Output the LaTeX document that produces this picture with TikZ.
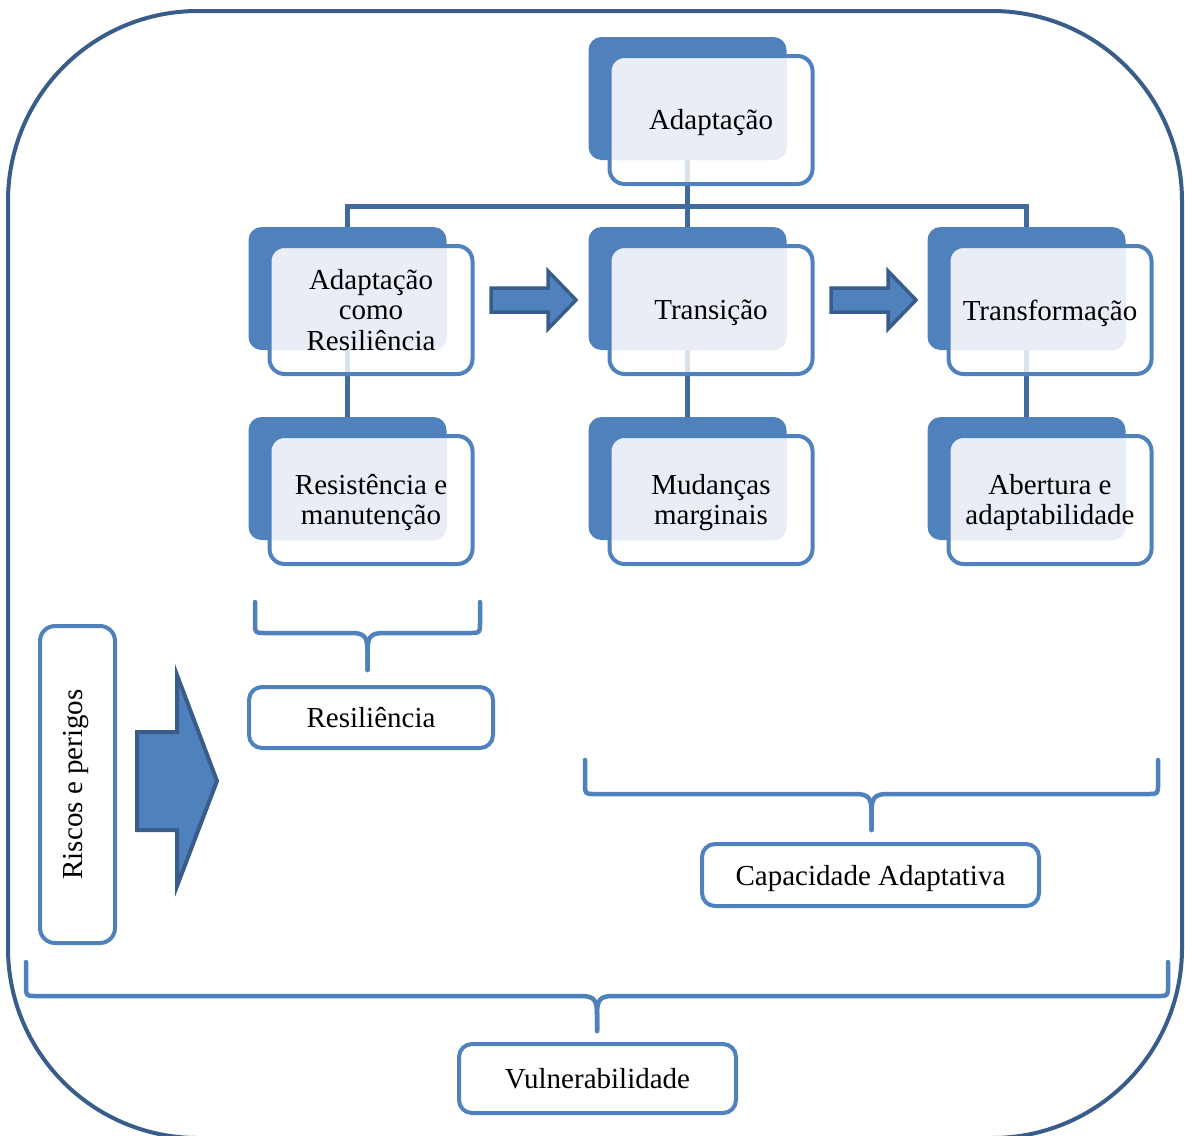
\documentclass[tikz,border=0pt]{standalone}
\usepackage{fontspec}
\setmainfont{Liberation Serif}
\definecolor{accent}{HTML}{4F81BD}
\definecolor{darkline}{HTML}{385D8A}
\definecolor{connc}{HTML}{41699C}
\definecolor{lightf}{HTML}{E9EEF6}
\newcommand\bodyfont{\fontsize{29}{30.5}\selectfont}
\tikzset{
 backbox/.style={fill=accent, rounded corners=13pt, minimum width=198pt, minimum height=123pt, inner sep=0pt, outer sep=0pt},
 frontbox/.style={draw=accent, line width=4pt, rounded corners=15pt, minimum width=203pt, minimum height=128pt, inner sep=0pt, outer sep=0pt, fill=white, fill opacity=0.8},
 boxtext/.style={align=center, font=\bodyfont, inner sep=0pt},
 conn/.style={draw=connc, line width=5pt},
 bracestyle/.style={draw=accent, line width=4.5pt, line cap=round, line join=round},
 labelbox/.style={draw=accent, line width=4pt, rounded corners=13pt, fill=white, inner sep=0pt, outer sep=0pt},
 flowarrow/.style={fill=accent, draw=darkline, line width=3.5pt, line join=miter},
}
\newcommand\backpart[3]{\node[backbox] (#1b) at ({#2-23.5},{#3-21.5}) {};}
\newcommand\frontpart[5]{\node[frontbox, path picture={\fill[lightf, fill opacity=1, rounded corners=13pt] (#1b.north west) rectangle (#1b.south east);}] (#1) at (#2,#3) {};
 \node[boxtext] (#1t) at (#2,{#3+#5}) {#4};}
\newcommand\curlybrace[5]{%
 \pgfmathsetmacro\bm{(#1+#2)/2}
 \draw[bracestyle] (#1,#3) -- (#1,{#4-10}) .. controls (#1,#4) .. ({#1+10},#4) -- ({\bm-16},#4) .. controls ({\bm-3},#4) and (\bm,{#4+4}) .. (\bm,{#4+18}) -- (\bm,#5);
 \draw[bracestyle] (#2,#3) -- (#2,{#4-10}) .. controls (#2,#4) .. ({#2-10},#4) -- ({\bm+16},#4) .. controls ({\bm+3},#4) and (\bm,{#4+4}) .. (\bm,{#4+18}) -- (\bm,#5);
}
\begin{document}
\begin{tikzpicture}[x=1pt,y=-1pt]
\useasboundingbox (0,0) rectangle (1185,1135);
% outer frame
\node[draw=darkline, line width=4pt, rounded corners=190pt, minimum width=1174pt, minimum height=1127pt, inner sep=0pt] (frame) at (595,574.5) {};
% back parts
\backpart{a}{711}{120}
\backpart{r1}{371}{310}
\backpart{r2}{711}{310}
\backpart{r3}{1050}{310}
\backpart{s1}{371}{500}
\backpart{s2}{711}{500}
\backpart{s3}{1050}{500}
% connectors
\coordinate (bus) at (0,206);
\draw[conn] (ab.south) -- (ab.south |- bus);
\draw[conn] (r1b.north) -- (r1b.north |- bus) -- (r3b.north |- bus) -- (r3b.north);
\draw[conn] (r2b.north) -- (r2b.north |- bus);
\draw[conn] (r1b.south) -- (s1b.north);
\draw[conn] (r2b.south) -- (s2b.north);
\draw[conn] (r3b.south) -- (s3b.north);
% front parts
\frontpart{a}{711}{120}{Adaptação}{3}
\frontpart{r1}{371}{310}{Adaptação\\como\\Resiliência}{0}
\frontpart{r2}{711}{310}{Transição}{3}
\frontpart{r3}{1050}{310}{Transformação}{3}
\frontpart{s1}{371}{500}{Resistência e\\manutenção}{2.5}
\frontpart{s2}{711}{500}{Mudanças\\marginais}{2.5}
\frontpart{s3}{1050}{500}{Abertura e\\adaptabilidade}{2.5}
% flow arrows
\draw[flowarrow] (491,288) -- (548,288) -- (548,271) -- (576,300) -- (548,329) -- (548,312) -- (491,312) -- cycle;
\draw[flowarrow] (831,288) -- (888,288) -- (888,271) -- (916,300) -- (888,329) -- (888,312) -- (831,312) -- cycle;
\draw[flowarrow, line width=4pt] (137,732) -- (177,732) -- (177,675) -- (217,781) -- (177,886) -- (177,830) -- (137,830) -- cycle;
% braces
\curlybrace{255}{480}{602}{633}{670}
\curlybrace{585}{1158}{760}{794}{830}
\curlybrace{26}{1168}{962}{996}{1031}
% label boxes
\node[labelbox, minimum width=244pt, minimum height=61pt] (res) at (371,717.5) {};
\node[boxtext] (rest) at (371,717.5) {Resiliência};
\node[labelbox, minimum width=337pt, minimum height=62pt] (cap) at (870.5,875) {};
\node[boxtext] (capt) at (870.5,879) {Capacidade Adaptativa};
\node[labelbox, minimum width=277pt, minimum height=69pt] (vul) at (597.5,1078.5) {};
\node[boxtext] (vult) at (597.5,1078.5) {Vulnerabilidade};
\node[labelbox, rotate=90, rounded corners=15pt, minimum width=317pt, minimum height=75pt] (ris) at (77.5,784.5) {};
\node[boxtext, rotate=90] (rist) at (76.5,784.5) {Riscos e perigos};
\end{tikzpicture}
\end{document}
